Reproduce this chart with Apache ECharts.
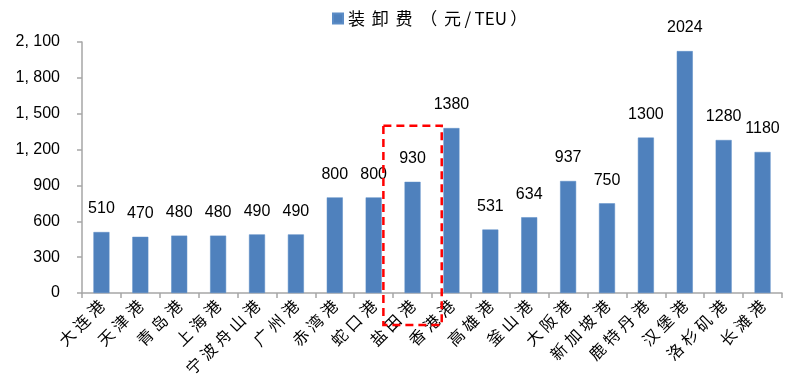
<!DOCTYPE html>
<html>
<head>
<meta charset="utf-8">
<script src="https://cdn.jsdelivr.net/npm/echarts@6/dist/echarts.min.js"></script>
<style>
  html, body { margin: 0; padding: 0; background: #fff; }
  #chart { width: 793px; height: 381px; }
</style>
</head>
<body>
<div id="chart"></div>
<script>
// Port handling fees, yuan per TEU
const ports = ['大连港', '天津港', '青岛港', '上海港', '宁波舟山港', '广州港', '赤湾港', '蛇口港', '盐田港',
  '香港港', '高雄港', '釜山港', '大阪港', '新加坡港', '鹿特丹港', '汉堡港', '洛杉矶港', '长滩港'];
const fees = [510, 470, 480, 480, 490, 490, 800, 800, 930, 1380, 531, 634, 937, 750, 1300, 2024, 1280, 1180];
const seriesName = '装卸费（元/TEU）';
const yTicks = [0, 300, 600, 900, 1200, 1500, 1800, 2100];
const highlightPort = '盐田港';

const chart = echarts.init(document.getElementById('chart'));
const axisGray = '#A6A6A6';
const cjk = '"Noto Sans CJK SC", "Noto Sans", sans-serif';
const latin = '"Liberation Sans", Arial, sans-serif';

// widen CJK glyph spacing a little
const spaced = (s, gap) => s.replace(/([\u3000-\u9fff\uff00-\uffef])(?=[\u3000-\u9fff\uff00-\uffef])/g, '$1' + gap);

chart.setOption({
  animation: false,
  legend: {
    data: [seriesName],
    top: 5,
    left: 327,
    itemWidth: 10,
    itemHeight: 10,
    icon: 'rect',
    itemGap: 6,
    formatter: name => spaced(name.replace('（', '  （'), '\u2009\u2009').replace('/', '\u2009/\u2009').replace('）', '\u2009）'),
    textStyle: { fontFamily: cjk, fontSize: 17, color: '#000' }
  },
  grid: { left: 82, right: 11, top: 42, bottom: 88, containLabel: false },
  xAxis: {
    type: 'category',
    data: ports,
    axisLine: { lineStyle: { color: axisGray, width: 1.5 } },
    axisTick: { show: true, alignWithLabel: false, length: 5, lineStyle: { color: axisGray, width: 1.5 } },
    axisLabel: {
      rotate: 45, interval: 0, fontFamily: cjk, fontSize: 16, color: '#000', margin: 10,
      formatter: v => spaced(v, '\u2009\u200a')
    }
  },
  yAxis: {
    type: 'value',
    min: yTicks[0],
    max: yTicks[yTicks.length - 1],
    interval: 300,
    splitLine: { show: false },
    axisLine: { show: true, lineStyle: { color: axisGray, width: 1.5 } },
    axisTick: { show: true, length: 5, lineStyle: { color: axisGray, width: 1.5 } },
    axisLabel: {
      fontFamily: latin, fontSize: 16, color: '#000', margin: 22,
      formatter: v => v >= 1000 ? Math.floor(v / 1000) + ', ' + String(v % 1000).padStart(3, '0') : String(v)
    }
  },
  series: [{
    name: seriesName,
    type: 'bar',
    data: fees,
    barWidth: 16,
    itemStyle: { color: '#4F81BD', borderColor: '#5B8CC6', borderWidth: 0.5 },
    label: {
      show: true,
      position: 'top',
      distance: 15,
      fontFamily: latin,
      fontSize: 16,
      color: '#000'
    }
  }]
});

// Dashed frame around the highlighted port, sized from the category band
function drawFrame() {
  const idx = ports.indexOf(highlightPort);
  const c = chart.convertToPixel({ xAxisIndex: 0 }, idx);
  const c2 = chart.convertToPixel({ xAxisIndex: 0 }, idx + 1);
  const band = c2 - c;
  const halfW = band * 0.75;
  const top = chart.convertToPixel({ yAxisIndex: 0 }, 1400);
  const base = chart.convertToPixel({ yAxisIndex: 0 }, 0);
  chart.setOption({
    graphic: [{
      type: 'rect',
      z: 100,
      shape: { x: c - halfW, y: top, width: halfW * 2, height: base + 32 - top },
      style: { fill: 'none', stroke: '#FF0000', lineWidth: 2.5, lineDash: [8, 5] }
    }]
  });
}
drawFrame();
</script>
</body>
</html>
